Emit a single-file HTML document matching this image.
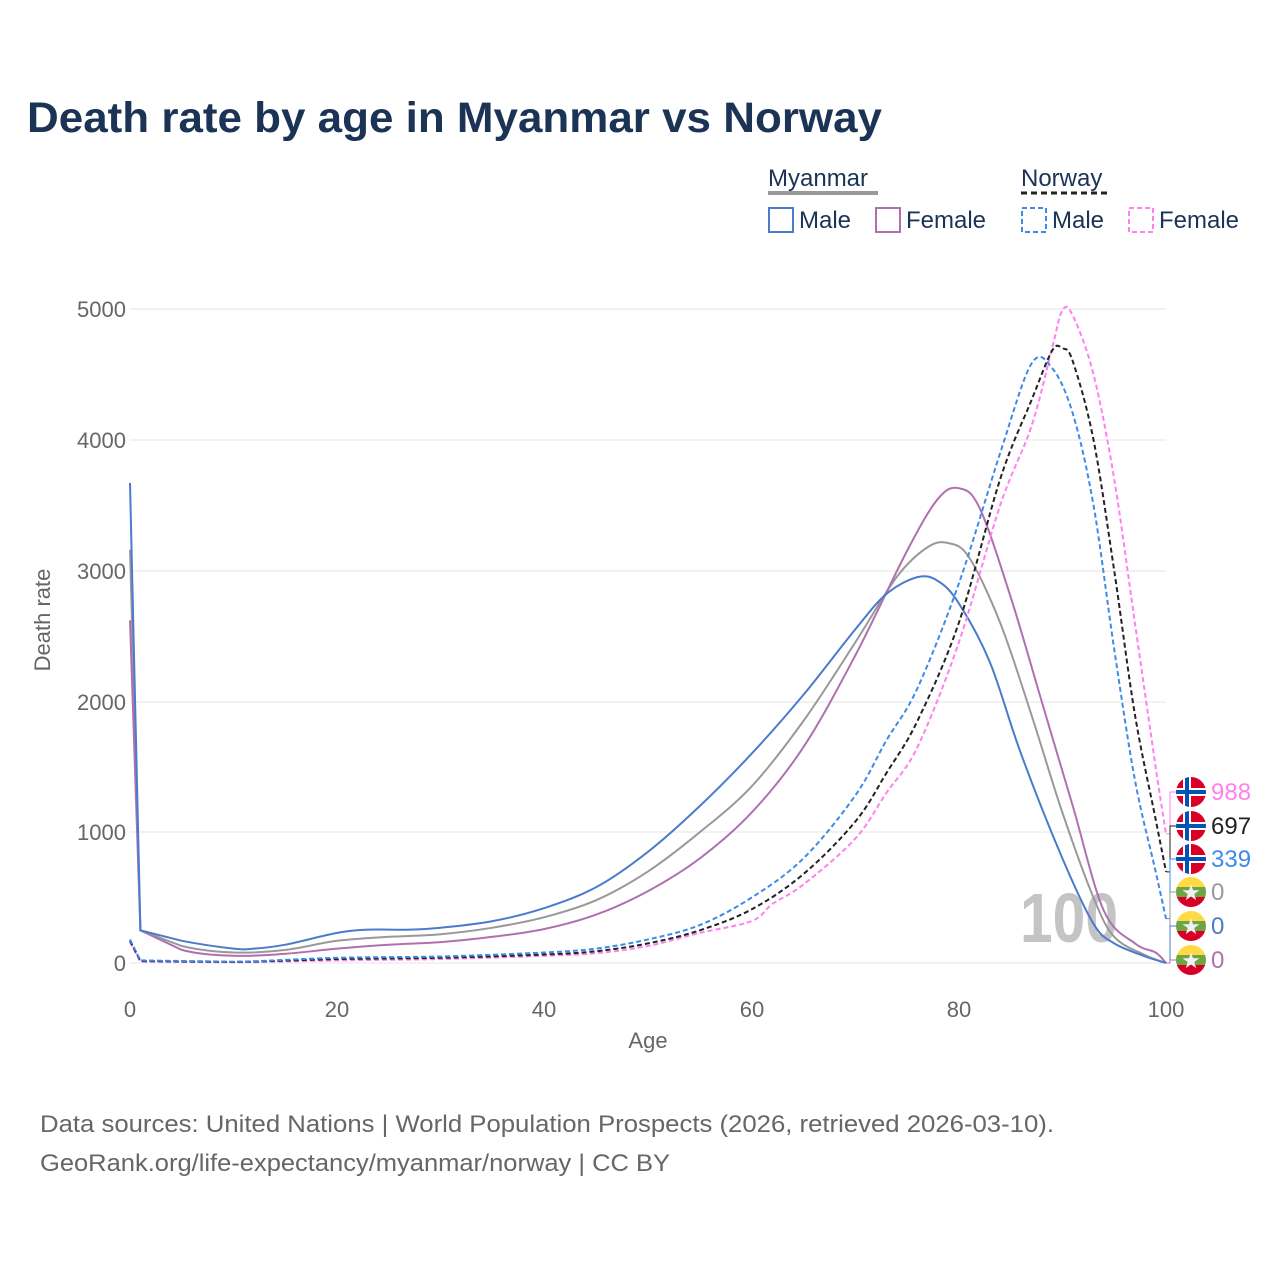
<!DOCTYPE html><html><head><style>
body{margin:0;background:#fff;font-family:"Liberation Sans",sans-serif;}
</style></head><body>
<svg id="s" width="1280" height="1280" xmlns="http://www.w3.org/2000/svg" font-family="Liberation Sans, sans-serif">
<rect width="1280" height="1280" fill="#fff"/>
<text x="27" y="132" font-size="43" font-weight="bold" fill="#1b3354" textLength="855" lengthAdjust="spacingAndGlyphs">Death rate by age in Myanmar vs Norway</text>
<text x="768" y="186" font-size="24" fill="#1b3354">Myanmar</text>
<line x1="768" y1="193" x2="878" y2="193" stroke="#999" stroke-width="4"/>
<text x="1021" y="186" font-size="24" fill="#1b3354">Norway</text>
<line x1="1021" y1="193" x2="1111" y2="193" stroke="#222" stroke-width="3" stroke-dasharray="6,4"/>
<rect x="769" y="208" width="24" height="24" fill="none" stroke="#4a7bcc" stroke-width="2"/>
<text x="799" y="228" font-size="24" fill="#1b3354">Male</text>
<rect x="876" y="208" width="24" height="24" fill="none" stroke="#b070b0" stroke-width="2"/>
<text x="906" y="228" font-size="24" fill="#1b3354">Female</text>
<rect x="1022" y="208" width="24" height="24" fill="none" stroke="#3b8beb" stroke-width="2" stroke-dasharray="5,3"/>
<text x="1052" y="228" font-size="24" fill="#1b3354">Male</text>
<rect x="1129" y="208" width="24" height="24" fill="none" stroke="#ff80ee" stroke-width="2" stroke-dasharray="5,3"/>
<text x="1159" y="228" font-size="24" fill="#1b3354">Female</text>
<g stroke="#e6e6e6" stroke-width="1">
<line x1="130" y1="309" x2="1166" y2="309"/><line x1="130" y1="440" x2="1166" y2="440"/><line x1="130" y1="571" x2="1166" y2="571"/><line x1="130" y1="702" x2="1166" y2="702"/><line x1="130" y1="832" x2="1166" y2="832"/><line x1="130" y1="963" x2="1166" y2="963"/>
</g>
<g font-size="22" fill="#666" text-anchor="end">
<text x="126" y="317">5000</text><text x="126" y="448">4000</text><text x="126" y="579">3000</text><text x="126" y="710">2000</text><text x="126" y="840">1000</text><text x="126" y="971">0</text>
</g>
<g font-size="22" fill="#666" text-anchor="middle">
<text x="130" y="1017">0</text><text x="337" y="1017">20</text><text x="544" y="1017">40</text><text x="752" y="1017">60</text><text x="959" y="1017">80</text><text x="1166" y="1017">100</text>
<text x="648" y="1048">Age</text>
</g>
<text transform="translate(50,620) rotate(-90)" font-size="22" fill="#666" text-anchor="middle">Death rate</text>
<text x="1020" y="942" font-size="70" font-weight="bold" fill="#c4c4c4" textLength="98" lengthAdjust="spacingAndGlyphs">100</text>
<g id="lines" fill="none" stroke-width="2"></g>
<g font-size="24">
<text x="1211" y="800" fill="#ff80ee">988</text>
<text x="1211" y="834" fill="#222">697</text>
<text x="1211" y="867" fill="#3b8beb">339</text>
<text x="1211" y="900" fill="#999">0</text>
<text x="1211" y="934" fill="#4a7bcc">0</text>
<text x="1211" y="968" fill="#b070b0">0</text>
</g>
<g id="flags"></g>
<text x="40" y="1132" font-size="24" fill="#666" textLength="1014" lengthAdjust="spacingAndGlyphs">Data sources: United Nations | World Population Prospects (2026, retrieved 2026-03-10).</text>
<text x="40" y="1171" font-size="24" fill="#666" textLength="630" lengthAdjust="spacingAndGlyphs">GeoRank.org/life-expectancy/myanmar/norway | CC BY</text>
</svg>
<script>
const X=a=>130+10.36*a,Y=v=>963-0.1308*v;
const S=[
["#999","",[[0,3160],[1,250],[5,130],[10,80],[15,100],[20,170],[25,200],[30,220],[35,270],[40,350],[45,480],[50,700],[55,1000],[60,1350],[65,1850],[70,2450],[74,2950],[77,3180],[79,3210],[81,3100],[84,2600],[87,1900],[90,1150],[93,500],[95,200],[98,60],[100,0]]],
["#b070b0","",[[0,2620],[1,250],[5,100],[10,55],[15,70],[20,110],[25,140],[30,160],[35,200],[40,260],[45,370],[50,550],[55,800],[60,1150],[65,1650],[70,2350],[75,3150],[78,3550],[80,3630],[82,3480],[85,2800],[88,2000],[91,1200],[94,400],[97,150],[99,80],[100,0]]],
["#4a7bcc","",[[0,3670],[1,250],[5,170],[10,110],[12,110],[15,140],[20,230],[23,255],[27,255],[30,270],[35,320],[40,420],[45,580],[50,850],[55,1200],[60,1600],[65,2050],[70,2550],[73,2820],[76,2950],[78,2920],[80,2750],[83,2300],[86,1600],[90,800],[93,300],[95,150],[98,50],[100,0]]],
["#ff80ee","5,3",[[0,160],[1,10],[10,5],[20,20],[30,30],[40,55],[45,75],[50,130],[55,230],[60,320],[62,450],[65,600],[70,950],[73,1300],[76,1650],[80,2450],[84,3500],[87,4100],[89,4700],[90,4990],[91,4950],[93,4500],[95,3700],[97,2600],[99,1500],[100,988]]],
["#222","5,3",[[0,170],[1,15],[10,8],[20,30],[30,40],[40,65],[45,90],[50,150],[55,250],[60,410],[65,680],[70,1080],[73,1450],[76,1850],[80,2600],[84,3700],[87,4300],[89,4680],[90,4700],[91,4600],[93,4000],[95,3000],[97,1900],[99,1100],[100,697]]],
["#3b8beb","5,3",[[0,180],[1,20],[10,10],[20,40],[30,50],[40,80],[45,110],[50,180],[55,290],[60,500],[65,800],[70,1280],[73,1700],[76,2100],[80,2900],[84,3900],[87,4580],[89,4550],[91,4200],[93,3500],[95,2400],[97,1400],[99,700],[100,339]]]];
function cr(p){const P=p.map(q=>[X(q[0]),Y(q[1])]);let d="M"+P[0][0].toFixed(1)+","+P[0][1].toFixed(1);
for(let i=0;i<P.length-1;i++){const p0=P[Math.max(0,i-1)],p1=P[i],p2=P[i+1],p3=P[Math.min(P.length-1,i+2)];
let t=(i==0||i==1)?0:1/6;
const c1=[p1[0]+(p2[0]-p0[0])*t,p1[1]+(p2[1]-p0[1])*t],c2=[p2[0]-(p3[0]-p1[0])*t,p2[1]-(p3[1]-p1[1])*t];
d+="C"+[c1,c2,p2].map(q=>q[0].toFixed(1)+","+q[1].toFixed(1)).join(" ");}return d;}
let h="";
for(const [c,d,p] of S){h+=`<path stroke="${c}" ${d?`stroke-dasharray="${d}"`:""} d="${cr(p)}"/>`;}
const ly=[792,826,859,892,926,960],vy=[Y(988),Y(697),Y(339),963,963,963],cc=["#ff80ee","#222","#3b8beb","#999","#4a7bcc","#b070b0"];
for(let i=0;i<6;i++)h+=`<path stroke="${cc[i]}" stroke-width="1" d="M1166,${vy[i]}H1170V${ly[i]}H1178"/>`;
document.getElementById("lines").innerHTML=h;
let f="";
for(let i=0;i<6;i++){const y=ly[i],cx=1191;
if(i<3)f+=`<clipPath id="c${i}"><circle cx="${cx}" cy="${y}" r="15"/></clipPath><g clip-path="url(#c${i})"><rect x="1176" y="${y-15}" width="30" height="30" fill="#d80027"/><rect x="1176" y="${y-4}" width="30" height="8" fill="#fff"/><rect x="1183" y="${y-15}" width="8" height="30" fill="#fff"/><rect x="1176" y="${y-2}" width="30" height="4" fill="#0052b4"/><rect x="1185" y="${y-15}" width="4" height="30" fill="#0052b4"/></g>`;
else f+=`<clipPath id="c${i}"><circle cx="${cx}" cy="${y}" r="15"/></clipPath><g clip-path="url(#c${i})"><rect x="1176" y="${y-15}" width="30" height="10" fill="#ffda44"/><rect x="1176" y="${y-5}" width="30" height="10" fill="#6da544"/><rect x="1176" y="${y+5}" width="30" height="10" fill="#d80027"/></g><text x="${cx}" y="${y+8}" font-size="22" fill="#f0f0f0" text-anchor="middle">★</text>`;}
document.getElementById("flags").innerHTML=f;
</script>
</body></html>
